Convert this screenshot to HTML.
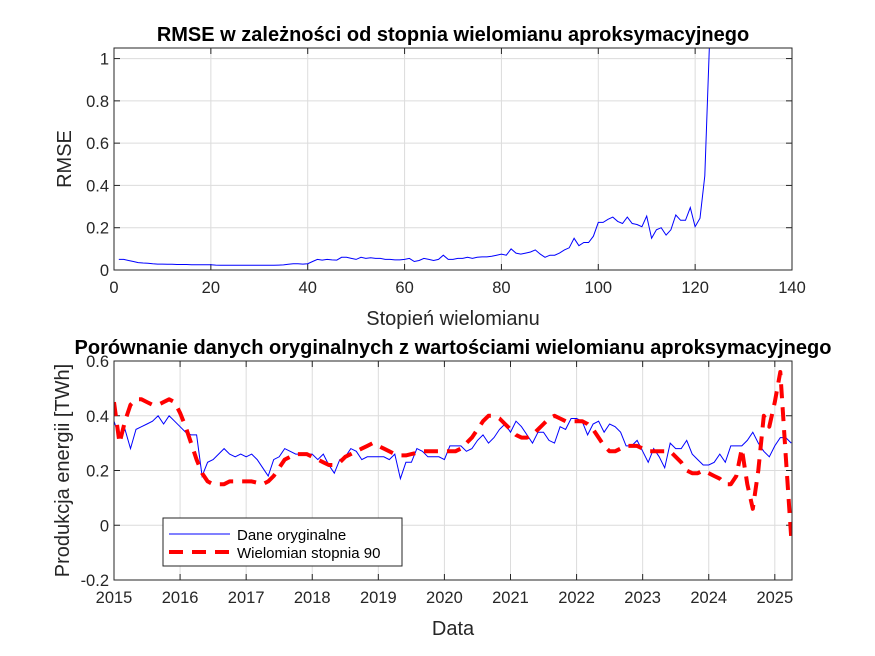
<!DOCTYPE html>
<html><head><meta charset="utf-8"><style>
body{margin:0;background:#fff;}
svg{display:block;font-family:"Liberation Sans",Arial,sans-serif;}
</style></head><body>
<svg id="fig" width="875" height="656"></svg>
<script>
const rmseDegrees=[];for(let i=1;i<=123;i++)rmseDegrees.push(i);
const rmseValues=[0.05,0.05,0.045,0.04,0.035,0.033,0.032,0.03,0.028,0.028,0.027,0.027,0.026,0.026,0.026,0.025,0.025,0.025,0.025,0.025,
0.023,0.022,0.022,0.022,0.022,0.022,0.022,0.022,0.022,0.022,0.022,0.022,0.022,0.023,0.024,0.027,0.03,0.03,0.028,0.03,
0.04,0.05,0.047,0.05,0.048,0.047,0.06,0.06,0.055,0.05,0.06,0.055,0.058,0.055,0.055,0.05,0.05,0.048,0.048,0.05,
0.055,0.04,0.045,0.055,0.05,0.045,0.05,0.07,0.05,0.05,0.055,0.055,0.06,0.055,0.06,0.062,0.062,0.065,0.07,0.075,
0.07,0.1,0.08,0.075,0.08,0.085,0.095,0.075,0.06,0.07,0.07,0.08,0.095,0.105,0.15,0.115,0.13,0.13,0.16,0.225,
0.225,0.24,0.25,0.23,0.22,0.25,0.22,0.215,0.205,0.255,0.15,0.19,0.2,0.165,0.19,0.26,0.235,0.235,0.295,0.205,
0.245,0.445,0.405,1.1];
rmseValues.length=123;rmseValues[122]=1.1;
const topXTicks=[0,20,40,60,80,100,120,140];
const topYTicks=[0,0.2,0.4,0.6,0.8,1];
const topYLabels=["0","0.2","0.4","0.6","0.8","1"];
const origValues=[0.38,0.32,0.35,0.28,0.35,0.36,0.37,0.38,0.40,0.37,0.40,0.38,
0.36,0.34,0.33,0.33,0.18,0.23,0.24,0.26,0.28,0.26,0.25,0.26,
0.25,0.26,0.24,0.21,0.18,0.24,0.25,0.28,0.27,0.26,0.26,0.26,
0.26,0.24,0.26,0.22,0.19,0.24,0.25,0.28,0.27,0.24,0.25,0.25,
0.25,0.25,0.24,0.26,0.17,0.23,0.23,0.28,0.27,0.25,0.25,0.25,
0.24,0.29,0.29,0.29,0.27,0.28,0.31,0.33,0.30,0.32,0.35,0.37,
0.34,0.38,0.36,0.33,0.30,0.34,0.34,0.31,0.30,0.36,0.35,0.39,
0.39,0.38,0.33,0.37,0.38,0.34,0.37,0.36,0.34,0.29,0.29,0.31,
0.27,0.23,0.28,0.25,0.21,0.30,0.28,0.28,0.31,0.26,0.24,0.22,
0.22,0.23,0.26,0.23,0.29,0.29,0.29,0.31,0.34,0.30,0.27,0.25,
0.29,0.32,0.32,0.30];
const polyValues=[0.45,0.30,0.38,0.44,0.46,0.46,0.45,0.44,0.44,0.45,0.46,0.45,
0.41,0.36,0.30,0.24,0.19,0.16,0.15,0.15,0.15,0.16,0.16,0.16,
0.16,0.16,0.155,0.15,0.16,0.18,0.21,0.24,0.25,0.26,0.26,0.26,
0.25,0.24,0.23,0.22,0.22,0.23,0.25,0.26,0.27,0.28,0.29,0.30,
0.29,0.28,0.27,0.26,0.255,0.255,0.26,0.265,0.27,0.27,0.27,0.27,
0.27,0.27,0.27,0.28,0.30,0.32,0.35,0.38,0.40,0.40,0.39,0.37,
0.35,0.33,0.32,0.32,0.33,0.35,0.37,0.39,0.40,0.39,0.38,0.38,
0.38,0.38,0.37,0.35,0.32,0.29,0.27,0.27,0.28,0.29,0.29,0.29,
0.28,0.27,0.27,0.27,0.27,0.27,0.25,0.23,0.20,0.19,0.19,0.20,
0.19,0.18,0.17,0.15,0.15,0.18,0.28,0.15,0.06,0.20,0.40,0.36,
0.45,0.56,0.25,-0.05];
const botXTicks=[2015,2016,2017,2018,2019,2020,2021,2022,2023,2024,2025];
const botYTicks=[-0.2,0,0.2,0.4,0.6];
const botYLabels=["-0.2","0","0.2","0.4","0.6"];

const NS="http://www.w3.org/2000/svg";
const svg=document.getElementById('fig');
function el(tag,attrs,parent,text){const e=document.createElementNS(NS,tag);for(const k in attrs)e.setAttribute(k,attrs[k]);if(text!==undefined)e.textContent=text;(parent||svg).appendChild(e);return e;}

function axes(name,L,T,R,B,xmin,xmax,ymin,ymax,xt,xl,yt,yl,title,xlab,ylab,ylabX){
  const g=el('g',{},svg);
  
  const sx=v=>L+(v-xmin)/(xmax-xmin)*(R-L);
  const sy=v=>B-(v-ymin)/(ymax-ymin)*(B-T);
  el('rect',{x:L,y:T,width:R-L,height:B-T,fill:'#fff'},g);
  xt.forEach((v,i)=>{const x=sx(v);
    if(x>L+0.5&&x<R-0.5){const gl=el('line',{x1:x,x2:x,y1:T,y2:B,stroke:'#dcdcdc','stroke-width':1},g);}
    el('line',{x1:x,x2:x,y1:B,y2:B-6,stroke:'#262626'},g);el('line',{x1:x,x2:x,y1:T,y2:T+6,stroke:'#262626'},g);
    const t=el('text',{x:x,y:B+23,'text-anchor':'middle','font-size':16.5,fill:'#262626'},g,xl[i]);});
  yt.forEach((v,i)=>{const y=sy(v);
    if(y>T+0.5&&y<B-0.5){const gl=el('line',{x1:L,x2:R,y1:y,y2:y,stroke:'#dcdcdc','stroke-width':1},g);}
    el('line',{x1:L,x2:L+6,y1:y,y2:y,stroke:'#262626'},g);el('line',{x1:R,x2:R-6,y1:y,y2:y,stroke:'#262626'},g);
    const t=el('text',{x:L-5,y:y+6,'text-anchor':'end','font-size':16.5,fill:'#262626'},g,yl[i]);});
  const cp=el('clipPath',{id:name+'-clip'},g);el('rect',{x:L,y:T,width:R-L,height:B-T},cp);
  const plot=el('g',{'clip-path':'url(#'+name+'-clip)'},g);
  el('rect',{x:L,y:T,width:R-L,height:B-T,fill:'none',stroke:'#262626','stroke-width':1},g);
  const tt=el('text',{x:(L+R)/2,y:T-7,'text-anchor':'middle','font-size':20,'font-weight':'bold',fill:'#000'},g,title);
  
  const xa=el('text',{x:(L+R)/2,y:B+55,'text-anchor':'middle','font-size':20,fill:'#262626'},g,xlab);
  
  const ya=el('text',{x:ylabX,y:(T+B)/2,'text-anchor':'middle','font-size':20,fill:'#262626',transform:'rotate(-90 '+ylabX+' '+(T+B)/2+')'},g,ylab);
  
  return {sx,sy,plot};
}

const a1=axes('rmse-axes',114,48,792,270,0,140,0,1.05,topXTicks,topXTicks.map(String),topYTicks,topYLabels,
 'RMSE w zależności od stopnia wielomianu aproksymacyjnego','Stopień wielomianu','RMSE',71);
let d='';rmseValues.forEach((v,i)=>{d+=(i?'L':'M')+a1.sx(rmseDegrees[i]).toFixed(1)+' '+a1.sy(v).toFixed(1);});
const l1=el('path',{d:d,fill:'none',stroke:'#0000ff','stroke-width':1},a1.plot);


const a2=axes('comparison-axes',114,361,792,580,2015,2015+124/12*0.99+0.03,-0.2,0.6,botXTicks,botXTicks.map(String),botYTicks,botYLabels,
 'Porównanie danych oryginalnych z wartościami wielomianu aproksymacyjnego','Data','Produkcja energii [TWh]',69);
const tOf=i=>2015+i/12;
d='';origValues.forEach((v,i)=>{d+=(i?'L':'M')+a2.sx(tOf(i)).toFixed(1)+' '+a2.sy(v).toFixed(1);});
const l2=el('path',{d:d,fill:'none',stroke:'#0000ff','stroke-width':1},a2.plot);

d='';polyValues.forEach((v,i)=>{d+=(i?'L':'M')+a2.sx(tOf(i)).toFixed(1)+' '+a2.sy(v).toFixed(1);});
const l3=el('path',{d:d,fill:'none',stroke:'#ff0000','stroke-width':4,'stroke-dasharray':'14 9','stroke-linejoin':'round'},a2.plot);


const lg=el('g',{},svg);

el('rect',{x:163,y:518,width:239,height:48,fill:'#fff',stroke:'#262626','stroke-width':1},lg);
el('line',{x1:169,x2:230,y1:534,y2:534,stroke:'#0000ff','stroke-width':1},lg);
el('text',{x:237,y:540,'font-size':15,fill:'#000'},lg,'Dane oryginalne');
el('line',{x1:169,x2:230,y1:552,y2:552,stroke:'#ff0000','stroke-width':4,'stroke-dasharray':'14 9'},lg);
el('text',{x:237,y:558,'font-size':15,fill:'#000'},lg,'Wielomian stopnia 90');
</script>
</body></html>
